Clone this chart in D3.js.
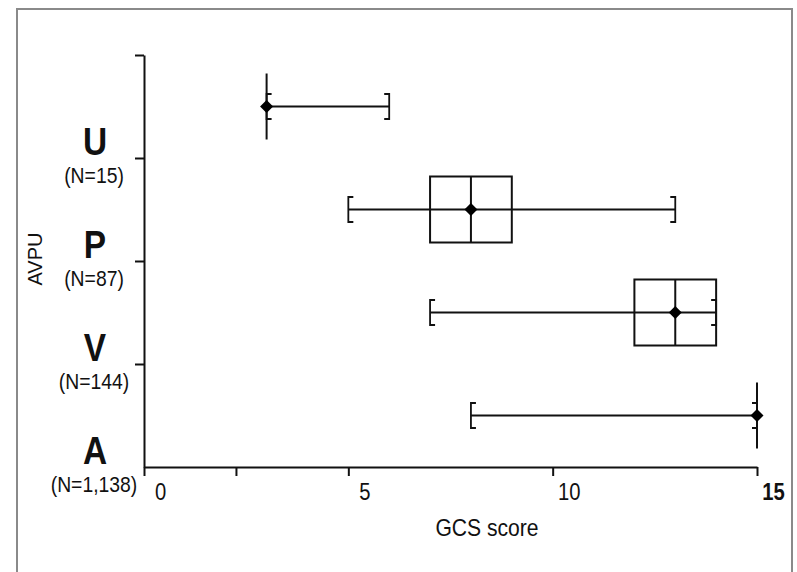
<!DOCTYPE html>
<html>
<head>
<meta charset="utf-8">
<script src="https://cdn.jsdelivr.net/npm/d3@7"></script>
<style>
  body { margin: 0; background: #fff; }
  svg text { font-family: "Liberation Sans Narrow", "Liberation Sans", "DejaVu Sans", sans-serif; fill: #111; }
</style>
</head>
<body>
<div id="chart"></div>
<script>
// AVPU groups, top to bottom
var categories = ["U", "P", "V", "A"];
var counts = ["(N=15)", "(N=87)", "(N=144)", "(N=1,138)"];

// GCS score summary per group
var mins    = [3, 5, 7, 8];
var q1s     = [3, 7, 12, 15];
var medians = [3, 8, 13, 15];
var q3s     = [3, 9, 14, 15];
var maxs    = [6, 13, 14, 15];

var xTicks = [0, 2.25, 5, 10, 15];
var xLabels = [0, 5, 10, 15];

var squeeze = 0.88; // text is set a little condensed

drawChart();

// place text at (x,y) and squeeze it horizontally
function narrowText(sel, x, y) {
    return sel.append("text")
              .attr("transform", "translate(" + x + "," + y + ") scale(" + squeeze + ",1)");
}

function drawChart() {
    var w = 797, h = 572;

    var svg = d3.select("#chart")
                .append("svg")
                .attr("width", w)
                .attr("height", h);

    // outer frame
    svg.append("rect")
       .attr("x", 17).attr("y", 9)
       .attr("width", 775).attr("height", 620)
       .attr("fill", "none")
       .attr("stroke", "#8a8a8a")
       .attr("stroke-width", 2);

    var x = d3.scaleLinear().domain([0, 15]).range([144, 757]);
    var y = d3.scaleBand().domain(categories).range([55, 467]).padding(0);
    var yEdge = d3.scaleLinear().domain([0, categories.length]).range([55, 467]);

    // y axis, ticks on the band edges
    var gy = svg.append("g")
                .attr("transform", "translate(144,0)")
                .call(d3.axisLeft(yEdge)
                        .tickValues(d3.range(categories.length))
                        .tickFormat("")
                        .tickSize(9)
                        .tickSizeOuter(0));
    gy.selectAll("path, line").attr("stroke", "#111").attr("stroke-width", 2);

    // x axis
    var gx = svg.append("g")
                .attr("transform", "translate(0,467)")
                .call(d3.axisBottom(x)
                        .tickValues(xTicks)
                        .tickFormat(function(d) { return xLabels.indexOf(d) >= 0 ? d : ""; })
                        .tickSize(9)
                        .tickSizeOuter(0));
    gx.selectAll("path, line").attr("stroke", "#111").attr("stroke-width", 2);
    gx.selectAll("text")
      .attr("x", 0)
      .attr("y", 0)
      .attr("dy", 0)
      .attr("transform", "translate(16,33) scale(" + squeeze + ",1)")
      .style("font-size", "23px")
      .style("font-weight", function(d) { return d === 15 ? "bold" : "normal"; })
      .style("fill", "#111");

    // group labels
    var labels = svg.append("g").attr("text-anchor", "middle");
    categories.forEach(function(c, i) {
        var bottom = y(c) + y.bandwidth();
        narrowText(labels, 95, bottom - 3)
              .style("font-size", "38px")
              .style("font-weight", "bold")
              .text(c);
        narrowText(labels, 94, bottom + 25)
              .style("font-size", "22px")
              .text(counts[i]);
    });

    // axis titles
    svg.append("text")
       .attr("transform", "translate(42,259) rotate(-90)")
       .attr("text-anchor", "middle")
       .style("font-size", "20px")
       .text("AVPU");

    narrowText(svg, 487, 536)
       .attr("text-anchor", "middle")
       .style("font-size", "24px")
       .text("GCS score");

    // box plots
    var boxH = 66, capH = 25, serif = 5;
    var plots = svg.append("g").attr("stroke", "#111").attr("fill", "none");

    categories.forEach(function(c, i) {
        var cy = y(c) + y.bandwidth() / 2;
        var g = plots.append("g");

        // whisker line
        g.append("line")
         .attr("x1", x(mins[i])).attr("x2", x(maxs[i]))
         .attr("y1", cy).attr("y2", cy)
         .attr("stroke-width", 1.8);

        // min bracket "["
        g.append("path")
         .attr("d", "M" + (x(mins[i]) + serif) + "," + (cy - capH / 2) +
                    "H" + x(mins[i]) + "V" + (cy + capH / 2) +
                    "H" + (x(mins[i]) + serif))
         .attr("stroke-width", 1.8);

        // max bracket "]"
        g.append("path")
         .attr("d", "M" + (x(maxs[i]) - serif) + "," + (cy - capH / 2) +
                    "H" + x(maxs[i]) + "V" + (cy + capH / 2) +
                    "H" + (x(maxs[i]) - serif))
         .attr("stroke-width", 1.8);

        // box
        g.append("rect")
         .attr("x", x(q1s[i])).attr("y", cy - boxH / 2)
         .attr("width", x(q3s[i]) - x(q1s[i])).attr("height", boxH)
         .attr("stroke-width", 2);

        // median line
        g.append("line")
         .attr("x1", x(medians[i])).attr("x2", x(medians[i]))
         .attr("y1", cy - boxH / 2).attr("y2", cy + boxH / 2)
         .attr("stroke-width", 2);

        // median marker
        g.append("path")
         .attr("d", d3.symbol().type(d3.symbolSquare).size(85)())
         .attr("transform", "translate(" + x(medians[i]) + "," + cy + ") rotate(45)")
         .attr("fill", "#000")
         .attr("stroke", "none");
    });
}
</script>
</body>
</html>
